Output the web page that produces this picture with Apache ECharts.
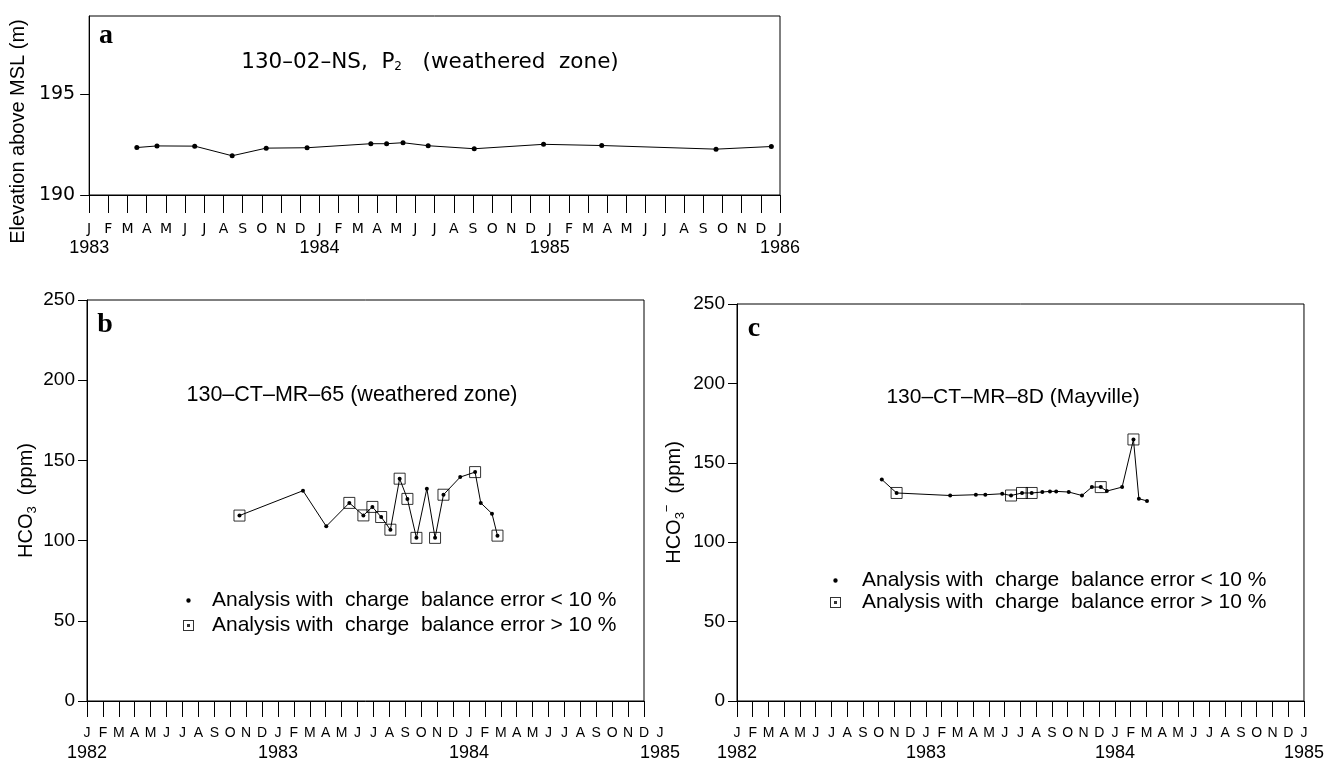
<!DOCTYPE html>
<html>
<head>
<meta charset="utf-8">
<script src="https://cdn.jsdelivr.net/npm/echarts@6/dist/echarts.min.js"></script>
<style>
  html, body { margin: 0; background: #fff; }
  #box { width: 1327px; height: 762px; }
</style>
</head>
<body>
<div id="box"></div>
<script>
// a: water level 130-02-NS, P2 (weathered zone), 1983-1985
var aDates = ['1983-03-16', '1983-04-17', '1983-06-16', '1983-08-15', '1983-10-08', '1983-12-12',
  '1984-03-22', '1984-04-16', '1984-05-12', '1984-06-21', '1984-09-03', '1984-12-22',
  '1985-03-23', '1985-09-21', '1985-12-18'];
var aLevel = [192.36, 192.44, 192.43, 191.95, 192.33, 192.35, 192.55, 192.55, 192.6, 192.45,
  192.3, 192.52, 192.46, 192.28, 192.41];

// b: HCO3, 130-CT-MR-65 (weathered zone); bErr = 1 when charge balance error > 10 %
var bDates = ['1982-10-19', '1983-02-17', '1983-04-02', '1983-05-16', '1983-06-12', '1983-06-29',
  '1983-07-16', '1983-08-03', '1983-08-21', '1983-09-05', '1983-09-22', '1983-10-12', '1983-10-28',
  '1983-11-13', '1983-12-15', '1984-01-13', '1984-01-24', '1984-02-14', '1984-02-24'];
var bHco3 = [115.6, 131.1, 108.9, 123.5, 115.7, 121, 114.7, 106.8, 138.6, 126, 101.7, 132.4, 101.7,
  128.6, 139.6, 142.7, 123.5, 116.8, 103.1];
var bErr = [1, 0, 0, 1, 1, 1, 1, 1, 1, 1, 1, 0, 1, 1, 0, 1, 0, 0, 1];

// c: HCO3, 130-CT-MR-8D (Mayville)
var cDates = ['1982-10-07', '1982-11-05', '1983-02-16', '1983-04-06', '1983-04-24', '1983-05-27',
  '1983-06-13', '1983-07-04', '1983-07-23', '1983-08-13', '1983-08-28', '1983-09-09', '1983-10-03',
  '1983-10-29', '1983-11-17', '1983-12-04', '1983-12-16', '1984-01-15', '1984-02-06', '1984-02-16',
  '1984-03-02'];
var cHco3 = [139.5, 131, 129.4, 129.9, 129.9, 130.5, 129.4, 131, 131, 131.6, 132, 132, 131.6, 129.4,
  134.7, 134.7, 132.2, 134.7, 164.7, 127.4, 126];
var cErr = [0, 1, 0, 0, 0, 0, 1, 1, 1, 0, 0, 0, 0, 0, 0, 1, 0, 0, 1, 0, 0];

var monthLetters = ['J', 'F', 'M', 'A', 'M', 'J', 'J', 'A', 'S', 'O', 'N', 'D'];
var yearStarts = [0, 12, 24, 36];
var hcoTicks = [0, 50, 100, 150, 200, 250];
var levelTicks = [190, 195];
var nameLow = 'Analysis with  charge  balance error < 10 %';
var nameHigh = 'Analysis with  charge  balance error > 10 %';

var FONT = '"Liberation Sans", Arial, sans-serif';
var WIDE = '"DejaVu Sans", sans-serif';
var SERIF = '"Liberation Serif", "DejaVu Serif", serif';

// fractional month count since January of y0
function monthIndex(s, y0) {
  var p = s.split('-');
  var y = +p[0], m = +p[1], d = +p[2];
  var dim = new Date(y, m, 0).getDate();
  return (y - y0) * 12 + (m - 1) + (d - 1) / dim;
}

function pairs(dates, vals, y0) {
  return dates.map(function (d, i) { return [monthIndex(d, y0), vals[i]]; });
}
function flagged(dates, vals, flags, y0) {
  return pairs(dates, vals, y0).filter(function (p, i) { return flags[i] === 1; });
}

function monthAxis(gi, max, tickLen, margin, font) {
  return {
    type: 'value', gridIndex: gi, position: 'bottom', min: 0, max: max, interval: 1,
    axisLine: { onZero: false, lineStyle: { color: '#000', width: 1 } },
    axisTick: { length: tickLen, lineStyle: { color: '#000', width: 1 } },
    splitLine: { show: false },
    axisLabel: {
      margin: margin, color: '#000', fontSize: 14, fontFamily: font,
      showMinLabel: true, showMaxLabel: true,
      formatter: function (v) { return monthLetters[Math.round(v) % 12]; }
    }
  };
}

function yearAxis(gi, y0, max, margin) {
  return {
    type: 'value', gridIndex: gi, position: 'bottom', min: 0, max: max,
    axisLine: { show: false }, axisTick: { show: false }, splitLine: { show: false },
    axisLabel: {
      customValues: yearStarts.filter(function (v) { return v <= max; }),
      margin: margin, color: '#000', fontSize: 18, fontFamily: FONT,
      formatter: function (v) { return String(y0 + Math.round(v) / 12); }
    }
  };
}

function levelAxis(gi, min, max, ticks, name, gap, nameStyle, margin, font) {
  return {
    type: 'value', gridIndex: gi, min: min, max: max,
    name: name, nameLocation: 'middle', nameGap: gap,
    nameTextStyle: nameStyle,
    axisLine: { onZero: false, lineStyle: { color: '#000', width: 1 } },
    axisTick: { length: 9, customValues: ticks, lineStyle: { color: '#000' } },
    splitLine: { show: false },
    axisLabel: { customValues: ticks, margin: margin, fontSize: 19, fontFamily: font, color: '#000' }
  };
}

var hcoName = {
  fontSize: 20, fontFamily: FONT, color: '#000',
  rich: {
    n: { fontSize: 20, fontFamily: FONT, color: '#000', lineHeight: 26, verticalAlign: 'middle' },
    s: { fontSize: 13, fontFamily: FONT, color: '#000', lineHeight: 14, verticalAlign: 'bottom' },
    p: { fontSize: 13, fontFamily: FONT, color: '#000', lineHeight: 14, verticalAlign: 'top' }
  }
};

var gridStyle = { show: true, borderColor: '#000', borderWidth: 1, backgroundColor: 'transparent' };

function lineSeries(name, xi, data, size) {
  return {
    type: 'line', name: name, xAxisIndex: xi, yAxisIndex: xi, data: data,
    symbol: 'circle', symbolSize: size, showSymbol: true,
    itemStyle: { color: '#000' },
    lineStyle: { color: '#000', width: 1 },
    emphasis: { disabled: true }
  };
}
function boxSeries(xi, data) {
  return {
    type: 'scatter', name: nameHigh, xAxisIndex: xi, yAxisIndex: xi, data: data,
    symbol: 'rect', symbolSize: 11, z: 3,
    itemStyle: { color: 'rgba(0,0,0,0)', borderColor: '#000', borderWidth: 1 },
    emphasis: { disabled: true }
  };
}

var dotIcon = 'path://M0,0L0.01,0M11,11L11.01,11M5.5,3.3A2.2,2.2,0,1,1,5.49,3.3Z';
var boxIcon = 'path://M0,0H11V11H0ZM1,1V10H10V1ZM4,4H7V7H4Z';

function legendFor(left, top, gap, pad) {
  return {
    orient: 'vertical', left: left, top: top, itemGap: gap, padding: 0,
    itemWidth: 11, itemHeight: 11, selectedMode: false,
    textStyle: { fontSize: 21, fontFamily: FONT, color: '#000', lineHeight: 20, padding: [0, 0, 0, pad] },
    data: [
      { name: nameLow, icon: dotIcon, itemStyle: { color: '#000', borderWidth: 0 } },
      { name: nameHigh, icon: boxIcon, itemStyle: { color: '#000', borderWidth: 0 } }
    ]
  };
}

var chart = echarts.init(document.getElementById('box'));
var option = {
  animation: false,
  backgroundColor: '#fff',
  grid: [
    Object.assign({ left: 87, top: 16, width: 693, height: 179 }, gridStyle),
    Object.assign({ left: 87, top: 300, width: 557, height: 401 }, gridStyle),
    Object.assign({ left: 737, top: 304, width: 567, height: 398 }, gridStyle)
  ],
  xAxis: [
    monthAxis(0, 36, 18, 27, WIDE),
    monthAxis(1, 35, 16, 25, FONT),
    monthAxis(2, 36, 16, 25, FONT),
    yearAxis(0, 1983, 36, 44),
    yearAxis(1, 1982, 35, 43),
    yearAxis(2, 1982, 36, 43)
  ],
  yAxis: [
    levelAxis(0, 190, 198.9, levelTicks, 'Elevation above MSL (m)', 57,
      { fontSize: 20, fontFamily: FONT, color: '#000', padding: [0, 52, 0, 0] }, 14, WIDE),
    levelAxis(1, 0, 250, hcoTicks, '{n|HCO}{s|3}{n|  (ppm)}', 44, hcoName, 12, FONT),
    levelAxis(2, 0, 250, hcoTicks, '{n|HCO}{s|3}{p|−}{n|  (ppm)}', 50, hcoName, 12, FONT)
  ],
  legend: [legendFor(183, 590, 4, 13), legendFor(830, 570, 1, 16)],
  series: [
    lineSeries('level', 0, pairs(aDates, aLevel, 1983), 5),
    lineSeries(nameLow, 1, pairs(bDates, bHco3, 1982), 4),
    boxSeries(1, flagged(bDates, bHco3, bErr, 1982)),
    lineSeries(nameLow, 2, pairs(cDates, cHco3, 1982), 4),
    boxSeries(2, flagged(cDates, cHco3, cErr, 1982))
  ]
};
chart.setOption(option);

// panel labels and station names; panel b's last month label sits past its axis end,
// so it is placed with the axis' own scale
var bEnd = chart.convertToPixel({ xAxisIndex: 1 }, 36);
var bBase = chart.convertToPixel({ yAxisIndex: 1 }, 0);
function note(x, y, text, size, family, weight, extraRich, vAlign) {
  return {
    type: 'text', x: x, y: y,
    style: {
      text: text, fontSize: size, fontFamily: family, fontWeight: weight || 'normal',
      fill: '#000', align: 'center', verticalAlign: vAlign || 'middle', rich: extraRich
    }
  };
}
chart.setOption({
  graphic: [
    note(106, 36, 'a', 28, SERIF, 'bold'),
    note(105, 325, 'b', 28, SERIF, 'bold'),
    note(754, 329, 'c', 28, SERIF, 'bold'),
    note(430, 62, '130–02–NS,  P{sub|2}   (weathered  zone)', 21.5, WIDE, 'normal',
      { sub: { fontSize: 12, fontFamily: WIDE, verticalAlign: 'bottom', lineHeight: 12 } }),
    note(352, 395, '130–CT–MR–65 (weathered zone)', 21.5, FONT),
    note(1013, 397, '130–CT–MR–8D (Mayville)', 21, FONT),
    note(bEnd, bBase + 25, 'J', 14, FONT, 'normal', null, 'top'),
    note(bEnd, bBase + 43, '1985', 18, FONT, 'normal', null, 'top')
  ]
});
</script>
</body>
</html>
